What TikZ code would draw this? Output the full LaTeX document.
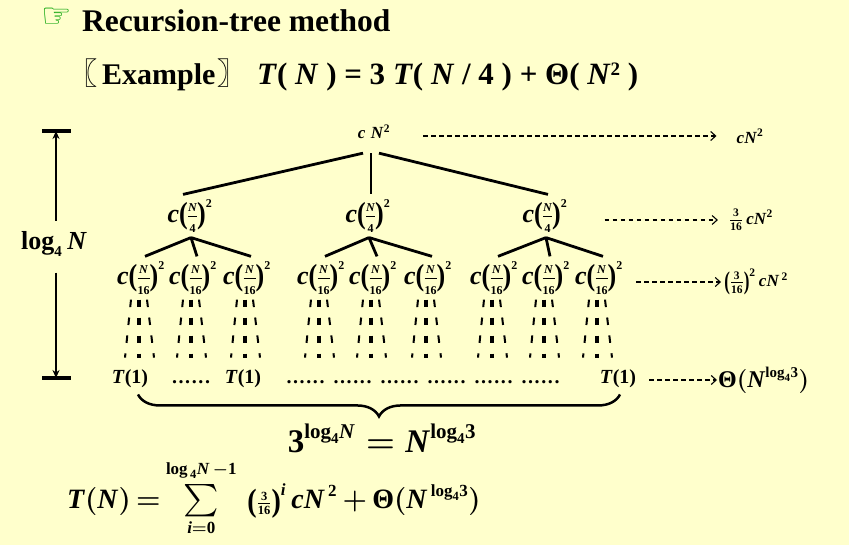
\RequirePackage{fix-cm}
\documentclass[tikz,border=0pt]{standalone}
\usepackage{amsmath}
\usepackage{graphicx}
\usepackage{fontspec}
\setmainfont{Liberation Serif}
\newfontfamily\cjk{Noto Sans CJK SC}
\newfontfamily\dejavu{DejaVu Sans}
\usetikzlibrary{arrows.meta,decorations.pathreplacing}
\definecolor{bgyel}{RGB}{255,255,204}
\definecolor{handgreen}{RGB}{0,160,0}
\DeclareMathSizes{17}{17}{11.5}{9}
\DeclareMathSizes{24}{24}{15}{11}
\DeclareMathSizes{26}{26}{12}{9}
\DeclareMathSizes{28}{28}{17}{12.5}
\DeclareMathSizes{33}{33}{21}{15}
\newcommand{\vi}[1]{\textbf{\textit{#1}}}
\newcommand{\vb}[1]{\textbf{#1}}
\newcommand{\bp}[3]{\raisebox{#3}{\scalebox{1}[#2]{\textbf{#1}}}}
\newcommand{\sixdots}{.\kern1.6pt.\kern1.6pt.\kern1.6pt.\kern1.6pt.\kern1.6pt.}
\newcommand{\fs}[1]{\fontsize{#1}{#1}\selectfont}
\newcommand{\qfrac}[1]{\vi{c}\bp{(}{1.17}{-1pt}\kern-1pt\frac{\vi{N}}{\vb{#1}}\kern-1pt\bp{)}{1.17}{-1pt}^{\vb{2}}}
\begin{document}
\begin{tikzpicture}[x=1pt,y=-1pt,
  treenode/.style={inner sep=0pt, outer ysep=5pt, font=\fs{26}\boldmath},
  treeedge/.style={line width=2.8pt},
  dashside/.style={line width=2pt, dash pattern=on 7.5pt off 10.5pt},
  dashmid/.style={line width=3.5pt, dash pattern=on 7.5pt off 10.5pt},
  dasharrow/.style={line width=1.1pt, dash pattern=on 4.5pt off 3.5pt, -{Straight Barb[length=5pt,width=9pt]}},
  botnode/.style={inner sep=0pt, font=\fs{20}\bfseries},
  lab/.style={inner sep=0pt, font=\fs{17}\boldmath},
  vline/.style={line width=2.5pt, -{Stealth[length=8pt,width=7pt]}},
  barline/.style={line width=3.3pt}
]
\fill[bgyel] (0,0) rectangle (849,545);
\useasboundingbox (0,0) rectangle (849,545);

% heading
\node[font=\dejavu\bfseries\fs{34}, text=handgreen, inner sep=0pt] (hand) at (57,18) {☞};
\node[anchor=base west, inner sep=0pt, font=\fs{31.5}\bfseries] (title) at (82,32) {Recursion-tree method};
\node[anchor=base west, inner sep=0pt, font=\fs{30}\bfseries] (ex) at (102,85) {Example};
\node[anchor=base east, inner sep=0pt, font=\cjk\bfseries\fs{30}] (lb) at ([xshift=-4pt]ex.base west) {〖};
\node[anchor=base west, inner sep=0pt, font=\cjk\bfseries\fs{30}] (rb) at ([xshift=2pt]ex.base east) {〗};
\node[anchor=base west, inner sep=0pt, font=\fs{31}\bfseries] (rec) at (257,85)
  {\textit{T}( \textit{N} ) = 3 \textit{T}( \textit{N} / 4 ) + Θ( \textit{N}\raisebox{9pt}{\fs{19}2} )};

% tree
\node[inner sep=0pt, font=\fs{17}\boldmath, anchor=base, outer ysep=14pt] (root) at (374,139) {$\vi{c}\;\vi{N}^{\vb{2}}$};
\node[treenode] (a) at (190,216) {$\qfrac{4}$};
\node[treenode] (b) at (368,216) {$\qfrac{4}$};
\node[treenode] (c) at (545,216) {$\qfrac{4}$};
\foreach \n/\x in {a1/141,a2/193,a3/247,b1/321,b2/373,b3/428,c1/494,c2/546,c3/599}
  \node[treenode] (\n) at (\x,278) {$\qfrac{16}$};

\draw[treeedge] ([xshift=-11pt]root.south) -- ([xshift=-7pt]a.north);
\draw[treeedge] ([xshift=-3pt]root.south) -- ([xshift=3pt]b.north);
\draw[treeedge] ([xshift=5pt]root.south) -- ([xshift=3pt]c.north);
\foreach \p in {a,b,c}
  \foreach \k in {1,2,3}
    \draw[treeedge] ([xshift=1pt]\p.south) -- ([xshift=4pt]\p\k.north);

\foreach \n in {a1,a2,a3,b1,b2,b3,c1,c2,c3} {
  \draw[dashside] ([xshift=-10pt]\n.south) -- ++(-6,58);
  \draw[dashmid] ([xshift=-2pt]\n.south) -- ++(0,58);
  \draw[dashside] ([xshift=6pt]\n.south) -- ++(7,58);
}

% leaves
\node[botnode, anchor=base] (t1) at (130,384) {\textit{T}(1)};
\node[botnode, anchor=base] (d1) at (191,384) {\sixdots};
\node[botnode, anchor=base] (t2) at (243,384) {\textit{T}(1)};
\node[botnode, anchor=base] (d2) at (423,384) {\sixdots\hspace{9pt}\sixdots\hspace{9pt}\sixdots\hspace{9pt}\sixdots\hspace{9pt}\sixdots\hspace{9pt}\sixdots};
\node[botnode, anchor=base] (t3) at (618,384) {\textit{T}(1)};

\draw[line width=2.5pt, decorate, decoration={brace, amplitude=22pt, mirror}]
  ([xshift=8pt,yshift=-6pt]t1.south) -- ([xshift=2pt,yshift=-6pt]t3.south);
\node[anchor=base, inner sep=0pt, font=\fs{33}\boldmath] (pow) at (382,452)
  {$\vb{3}^{\vb{log}_{\vb{4}}\vi{N}} = \vi{N}^{\vb{log}_{\vb{4}}\vb{3}}$};

% right column
\node[lab] (r0) at (750,136) {$\vi{cN}^{\vb 2}$};
\node[lab] (r1) at (751,220) {$\frac{\vb 3}{\vb{16}}\,\vi{cN}^{\vb 2}$};
\node[lab] (r2) at (756,282) {$\bp{(}{1.5}{-3pt}\frac{\vb 3}{\vb{16}}\bp{)}{1.5}{-3pt}^{\vb 2}\,\vi{cN}^{\,\vb 2}$};
\node[lab, anchor=west, font=\fs{24}\boldmath] (r3) at (718,380) {$\vb{Θ}(\vi{N}^{\vb{log}_{\vb 4}\vb 3})$};

\draw[dasharrow, shorten <=33pt, shorten >=20pt] (root.east |- r0.west) -- (r0.west);
\draw[dasharrow, shorten <=37pt, shorten >=11pt] (c.east |- r1.west) -- (r1.west);
\draw[dasharrow, shorten <=13pt, shorten >=3pt] (c3.east |- r2.west) -- (r2.west);
\draw[dasharrow, shorten <=13pt, shorten >=1pt] (t3.east |- r3.west) -- (r3.west);

% height bar
\coordinate (bt) at (56,131);
\coordinate (bb) at (56,378);
\draw[barline] ([xshift=-14pt]bt) -- ([xshift=15pt]bt);
\draw[barline] ([xshift=-14pt]bb) -- ([xshift=15pt]bb);
\node[anchor=base, inner sep=0pt, font=\fs{26}\boldmath] (lg) at (54,250) {$\vb{log}_{\mbox{\fs{15}\bfseries 4}}\,\vi{N}$};
\draw[vline, shorten <=11pt] (lg.north -| bt) -- (bt);
\draw[vline, shorten <=16pt] (lg.south -| bb) -- (bb);

% formula
\node[anchor=base west, inner sep=0pt, font=\fs{28}\boldmath] (sum) at (67,508)
  {\thickmuskip=3mu\medmuskip=3mu$\vi{T}(\vi{N}) = \mathop{\vcenter{\hbox{\scalebox{1.35}[1.3]{$\sum$}}}}\limits_{\rule{0pt}{10pt}\vi{i}=\vb{0}}^{\vb{log}_{\,\vb{4}}\vi{N}\,-\vb{1}\rule[-8pt]{0pt}{8pt}}\; \bp{(}{1.15}{-3pt}\genfrac{}{}{}{2}{\vb{3}}{\vb{16}}\bp{)}{1.15}{-3pt}^{\vi{i}}\, \vi{cN}^{\,\vb{2}} + \vb{Θ}(\vi{N}^{\,\vb{log}_{\vb{4}}\vb{3}})$};
\end{tikzpicture}
\end{document}
